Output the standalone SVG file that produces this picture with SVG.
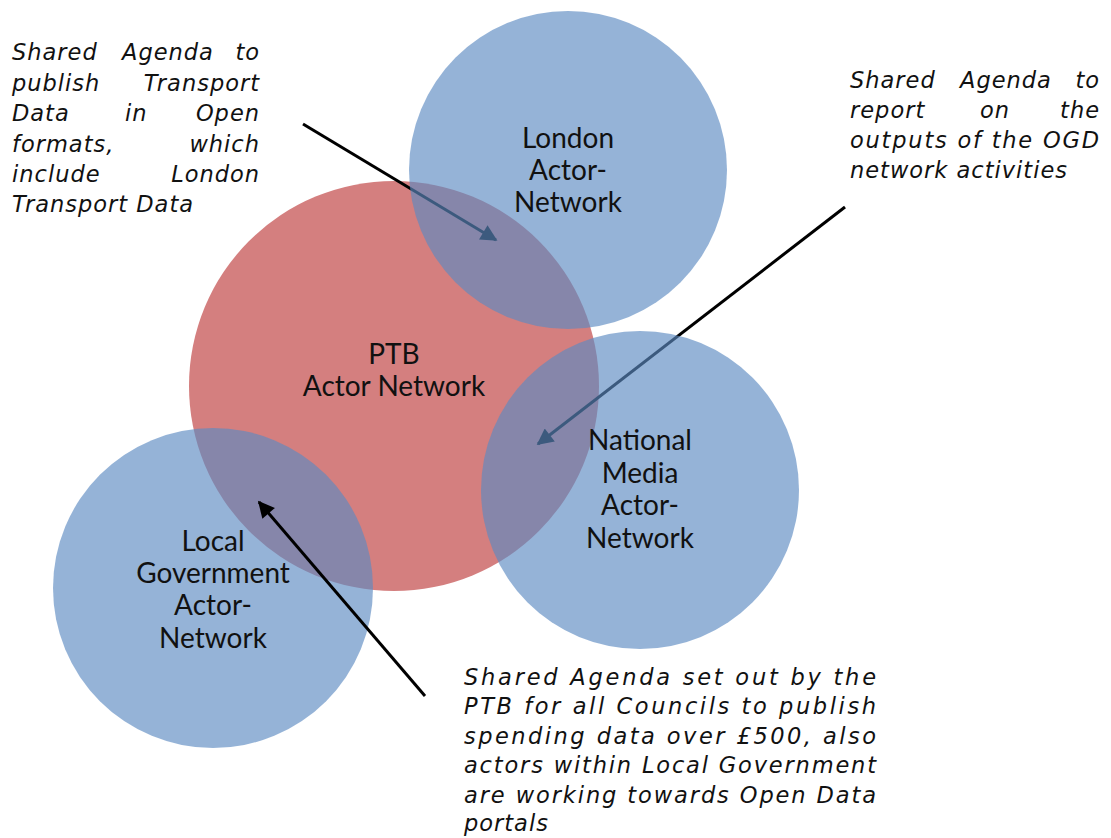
<svg xmlns="http://www.w3.org/2000/svg" width="1111" height="838" viewBox="0 0 1111 838">
<style>
.red{fill:#d47f7f}
.blue{fill:rgb(92,138,193);fill-opacity:0.65}
.lbl{font-family:Lato,"Liberation Sans",sans-serif;font-size:28px;fill:#111;text-anchor:middle}
.note{font-family:"DejaVu Sans",sans-serif;font-style:italic;font-size:22.5px;letter-spacing:1px;fill:#111}
.e{text-anchor:end}
.arr{stroke:#000;stroke-width:3;fill:none;marker-end:url(#ah)}
</style>
<defs>
<marker id="ah" viewBox="0 0 10 10" refX="9" refY="5" markerWidth="7" markerHeight="5.5" orient="auto" markerUnits="strokeWidth">
<path d="M0,0 L10,5 L0,10 z" fill="#000"/>
</marker>
</defs>
<rect width="1111" height="838" fill="#fff"/>
<g id="ptb">
<circle class="red" cx="394" cy="386" r="205"/>
</g>
<g id="connectors">
<line class="arr" x1="303" y1="124" x2="496" y2="240"/>
<line class="arr" x1="845" y1="207" x2="538" y2="444"/>
</g>
<g id="london">
<circle class="blue" cx="568" cy="170" r="159"/>
<text class="lbl" x="568" y="148">London</text>
<text class="lbl" x="568" y="180">Actor-</text>
<text class="lbl" x="568" y="212">Network</text>
</g>
<g id="national-media">
<circle class="blue" cx="640" cy="490" r="159"/>
<text class="lbl" x="640" y="450">National</text>
<text class="lbl" x="640" y="483">Media</text>
<text class="lbl" x="640" y="515">Actor-</text>
<text class="lbl" x="640" y="548">Network</text>
</g>
<g id="local-government">
<circle class="blue" cx="213" cy="588" r="160"/>
<text class="lbl" x="213" y="551">Local</text>
<text class="lbl" x="213" y="583">Government</text>
<text class="lbl" x="213" y="615">Actor-</text>
<text class="lbl" x="213" y="648">Network</text>
</g>
<g id="ptb-label">
<text class="lbl" x="394" y="364">PTB</text>
<text class="lbl" x="394" y="396">Actor Network</text>
</g>
<g id="connectors-top">
<line class="arr" x1="425" y1="696" x2="259" y2="502"/>
</g>
<g id="note-london">
<text class="note" x="12" y="60">Shared</text>
<text class="note" x="122" y="60">Agenda</text>
<text class="note e" x="260" y="60">to</text>
<text class="note" x="12" y="91">publish</text>
<text class="note e" x="260" y="91">Transport</text>
<text class="note" x="12" y="121">Data</text>
<text class="note" x="125" y="121">in</text>
<text class="note e" x="260" y="121">Open</text>
<text class="note" x="12" y="152">formats,</text>
<text class="note e" x="260" y="152">which</text>
<text class="note" x="12" y="182">include</text>
<text class="note e" x="260" y="182">London</text>
<text class="note" x="12" y="212">Transport Data</text>
</g>
<g id="note-media">
<text class="note" x="850" y="88">Shared</text>
<text class="note" x="960" y="88">Agenda</text>
<text class="note e" x="1100" y="88">to</text>
<text class="note" x="850" y="118">report</text>
<text class="note" x="980" y="118">on</text>
<text class="note e" x="1100" y="118">the</text>
<text class="note" x="850" y="148" textLength="250" lengthAdjust="spacing">outputs of the OGD</text>
<text class="note" x="850" y="178">network activities</text>
</g>
<g id="note-local">
<text class="note" x="464" y="685" textLength="413" lengthAdjust="spacing">Shared Agenda set out by the</text>
<text class="note" x="464" y="714" textLength="413" lengthAdjust="spacing">PTB for all Councils to publish</text>
<text class="note" x="464" y="744" textLength="413" lengthAdjust="spacing">spending data over £500, also</text>
<text class="note" x="464" y="773" textLength="413" lengthAdjust="spacing">actors within Local Government</text>
<text class="note" x="464" y="803" textLength="413" lengthAdjust="spacing">are working towards Open Data</text>
<text class="note" x="464" y="831">portals</text>
</g>
</svg>
